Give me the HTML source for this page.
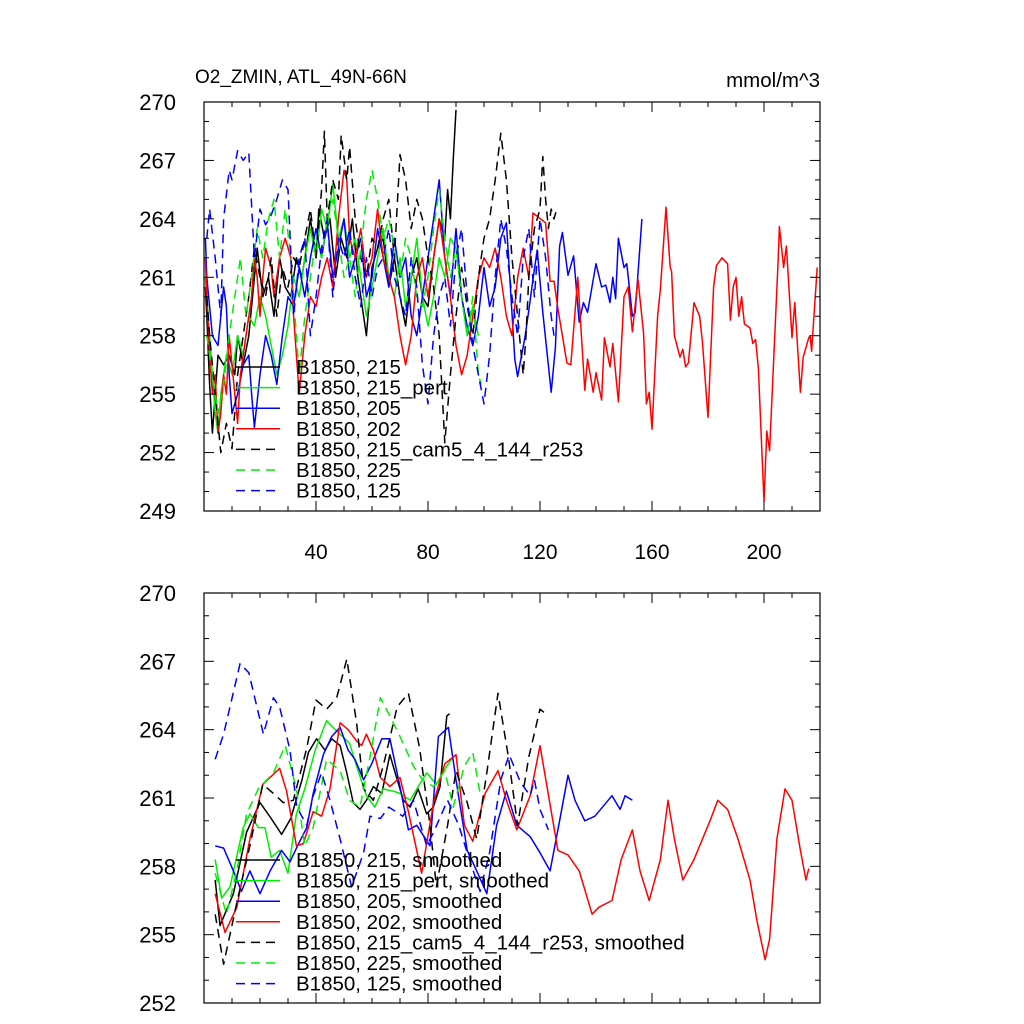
<!DOCTYPE html>
<html><head><meta charset="utf-8"><style>
html,body{margin:0;padding:0;background:#fff;}
svg{display:block;font-family:"Liberation Sans",sans-serif;}
</style></head><body>
<svg id="chart" width="1024" height="1024" viewBox="0 0 1024 1024"></svg>
<script>
// ---------- DATA ----------
const topBlackX=[0.5,1,2,3,4,5,7,9,11,12,14,16,18,19,21,23,25,27,29,31,33,35,37,38,40,41,43,45,47,49,51,53,55,57,58,60,62,64,66,68,70,72,74,76,78,80,82,84,86,87,88,89,90];
const topBlackV=[260.5,259,255.5,253,255,257,256.5,257,256,258,256.5,258,261,262.5,260,261,259,262,260.5,260,262,261,263,264,262,264.5,263,264,261,263,262,264,261,259,258,261.5,262.5,263,260.5,262,260,258.5,261,262,260,259.5,262,264,263,265.5,264,267,269.6];
const topGreenX=[0.5,2,3,4,5,6,8,10,12,14,16,18,20,22,24,26,28,30,32,34,36,38,40,42,44,46,48,50,52,54,56,58,60,62,64,66,68,70,72,74,76,78,80,82,84,86,88,90,92,94,96,98];
const topGreenV=[261,258,256,254,253,255,257,256,258,257,259,258.5,260,259,257.5,256,257,258.5,261,260,262,263.5,262,264.5,263.5,265.8,263,264,262,263,261,259,260.5,262,263.5,261,260,262,259.5,261,263,260,258.5,260,262,261,263,262.5,260,258,259.5,258];
const topBlueX=[0.5,1,3,5,6,7,8,9,10,12,14,16,17,18,20,22,24,26,28,30,32,34,36,38,40,42,44,46,48,50,52,54,56,58,60,62,64,66,68,70,72,74,76,78,80,82,84,86,88,90,92,94,96,98,100,102,104,106,108,111,112,114.6,116,117.5,119,121,124,125.5,127,128,130,132,134,135.5,137,140,142,143.5,145,146,147,148,150,151,153,154,156.4];
const topBlueV=[263,261,258,257.5,259,260.5,259.5,256,254,255,256.5,257,255,253.3,256,258,257,255.5,258,260,259.5,261.5,260,262,263.5,262,263.8,261,262.5,264,261,262,263,260,261,263.5,262,260.5,263,261,262,259,258,260,262,264,266,262,260,263.5,260,258.5,257.5,259,261.5,259.5,260.5,263,263.8,256.8,255.9,257.9,259.3,260.9,262.4,259.2,255.1,257.4,262.6,263.3,261.1,262.1,258.7,259.7,259.2,261.7,260.5,260.6,259.7,261,259.9,263,261.5,261.7,259,259.2,264];
const topRedX=[0.5,1,2,3,4,5,6,7,8,9,11,12,13,15,17,18,19,20,21,22,24,25,27,29,31,32,33,34,36,38,40,42,44,46,48,50,51,52,54,56,58,60,62,64,66,68,70,72,74,76,78,80,82,84,86,88,90,92,94,96,98,100,102,104,106,108,110,112,114,116,117.5,122,123.6,125,126.5,129.6,131,133.5,136,137,139,140,142,143,145,146,148,150,151.5,153,155,157,158,159,160,162,163,165,166.5,167,168,170,171,172,173,175,177,178,180,182,183,185,187,188,189,190,191,192,193,195,196,197,198,200,201,202,205,205.5,207,208,210,211,213,214,216,216.5,217,219];
const topRedV=[262,260,257,255,256,253,254,256,255,258,255,253.5,256,258,260,262,261,259,261,262.5,261.5,260,262,263,262,259,257,255,258,260,259.5,261,262,260.5,264,266.5,266,263,262,263.5,261,262,264.5,262,261,260,258,256.5,258,261,262,260,262,264,262,260,257.5,256,257,259,261,262,261.5,262.5,261,259,258,261,262.5,261,264.3,263.8,260.8,260.8,259.3,256.6,256.5,261,255.2,256.8,255.1,256.1,254.7,257.9,256.4,257.6,254.6,260,260.5,258.2,260.9,258.1,254.5,255.1,253.2,259,260.4,264.6,261.5,261.3,258,256.9,257.3,256.4,256.6,259.7,259,257.7,253.8,260.5,261.6,262,261.7,258.8,260.5,261,259,260,258.6,258.4,257.6,257.8,256.3,249.5,253.1,252.1,261.7,263.6,261.5,262.6,257.9,259.7,255.1,256.9,257.9,258,257.2,261.5];
const topBlackDX=[1,2,4,6,8,10,12,14,16,18,20,22,24,26,28,30,32,34,36,38,40,42,43,44,46,48,49,51,52,54,56,58,60,62,64,66,68,70,72,74,76,78,80,82,84,86,88,90,92,94,96,98,100,102,104,106,108,110,112,114,115,116,118,120,121,122,123,124,125,126];
const topBlackDV=[260,258,255,252,253.5,252.2,256,258,260,262.5,261,260,262,259,261.5,260.5,262,261.5,263,264.5,262,265.5,268.5,264,266,265,268.3,266,267.7,264,262,261,263,262.5,264,265,262,267.3,266,263.5,265,264,262,260.5,258,252.5,256,259,261.5,259.5,258,261,263,264,266,268.4,266,262,259,256,258,261,263.5,264.5,267.2,265,263.5,264.5,264,264.5];
const topGreenDX=[1,3,5,7,9,11,13,15,17,19,21,23,25,27,29,31,33,34,36,38,40,42,44,46,48,50,52,54,56,58,60,62,64,66,68,70,72,74,76,78,80,82,84,86,88,90,92,94,96,98,99];
const topGreenDV=[258,256,254,255.5,258,260,262,259,261,263.5,262,264,265,262,264.5,262,258,256,259,261,263,262,264,265,263,261,262,260,262.5,265,266.5,265,263,264,262.5,261,263,262,260,259.5,261,263.5,265.5,263,261,262.5,260,258,260,256,255.5];
const topBlueDX=[1,2,4,6,7,9,10,12,14,16,18,20,22,24,26,28,30,32,34,36,38,40,42,44,46,48,50,52,54,56,58,60,62,64,66,68,70,72,74,76,78,80,82,84,86,88,90,92,94,96,98,100,102,104,106,108,110,112,114,116,118,120,122,124,125];
const topBlueDV=[263,264.5,262,259,264,266.5,266,267.5,267,267.4,262,264.5,263.7,264.2,265,266,265.5,259,262,263,258,260,262.5,264,260,263,262,263.5,261,259.5,262,260,261.5,262,263.5,261,260,259,262,260.5,256.5,254.5,258,260,261,258.5,262,263.5,260,257.5,256,254.5,257,261,264,262.5,260,258,262,263.5,260,264,262,259,258];

const botBlackX=[4,5.7,10.5,15.2,20,24,27.7,31,35,37.3,40.2,43.2,45.6,48.6,51,53.3,55.7,58,60.5,63.5,66.4,69,71.2,73.6,76.5,79.5,81.9,84.3,86.7,87.7];
const botBlackV=[257.4,255.4,256.8,259.5,260.8,260.1,259.4,260.1,261.8,263,263.6,263.1,263.6,263.3,262.1,260.8,260.5,260.9,261.5,261.2,262.9,261.8,260.9,260.6,261.4,260.3,260.6,261.5,264.6,264.7];
const botGreenX=[4,6.3,9.3,14,16.4,19.4,21.8,24,27,30,33,36,39.7,43.8,46,48.6,52,54.5,58,61,64,67.6,70,73.6,76.5,79.5,83,86.7,89];
const botGreenV=[258.3,256.6,257.1,259.7,260.3,259.7,259.7,258.4,258.7,257.7,260.3,261.4,263.1,264.4,264.1,263.8,263.4,262.4,261.1,260.6,261.4,261.3,261.2,260.9,261.5,262.1,261.6,262.4,262.8];
const botBlueX=[4,7,10.5,13.4,16.4,20,23.6,27.7,30.7,33.8,36.7,39,42.6,45.6,48.6,51.5,53.9,57,59.9,63.5,66.4,70,73,76,80.7,83.7,87.3,90,94,97.4,101,104.5,108,111.7,116.5,120,123.6,127,130,132.5,136,139.6,143,145.7,148.6,150.4,153];
const botBlueV=[258.9,258.8,257.8,256.9,257.8,256.8,257.8,258.7,258.2,259,259.7,261.2,262.9,263.7,264.1,263.1,262.7,261.8,262.5,263.6,263.6,261.5,259.6,259.8,258.9,263.7,264.1,261.8,258.7,257.8,256.8,259.8,261.3,259.8,259.3,258.6,257.8,260,262,260.9,260,260.2,260.7,261.1,260.5,261.1,260.9];
const botRedX=[4,7.5,11.7,16.4,21,27,29.5,33,35.5,39,42,45,48.6,51.5,54.5,56.3,58,60.5,63,66.4,70,73,77.7,82,86,90,93,96,100.4,105,108,111.7,116.5,120,126.4,130,134,138.6,141,145.7,149,153,155.7,159,163,165.7,168,171,175,180.7,183.5,187,190.7,195,197.5,200.4,202,204.6,207.5,210,213,215,216];
const botRedV=[256.8,255.1,256.2,259.2,261.6,262.3,261.3,258.9,259,260.4,260.2,261.4,264.3,264,263.5,263.3,263.8,263.1,261.9,261.5,261.9,260.4,257.7,260.8,262.5,262.9,259.8,259.1,261.2,262.2,260.9,259.6,261.1,263.3,258.7,258.5,257.8,255.9,256.2,256.5,258.3,259.6,257.8,256.5,258.3,260.9,259.2,257.4,258.3,260,260.9,260.5,259.2,257.4,255.6,253.9,254.8,259.2,261.4,260.9,258.7,257.4,257.9];
const botBlackDX=[4,7,11.7,16.4,21,24.8,28.3,31.9,36.7,40,43.8,47.4,51,54.5,57,60.5,64,69,73,77,80.7,83,87,90,94,97.4,101,105,108.7,112,116,120,123];
const botBlackDV=[255.9,253.7,256.4,258.9,261.6,261.2,260.8,260.9,263.2,265.3,264.9,265.4,267.1,264.3,261.4,260.9,262.4,265,265.6,263.2,259.8,257.1,259.8,262.2,260.8,259.2,262.1,265.6,262.8,259.8,262.8,264.9,264.6];
const botGreenDX=[4,8,11.7,15.2,19.4,24.8,29,33,36,39,43.8,48.6,52,55.7,59.3,63,66.4,70,74.8,78,82,86,89,93,96,98.6];
const botGreenDV=[257.7,255.9,257.8,260.3,261.4,262.1,263.3,261.4,258.9,259.7,262.7,262.2,260.9,260.6,262.8,265.4,264.6,263.7,262.4,261.8,261.5,262.2,260.6,262.4,263,261.2];
const botBlueDX=[4,7,12.9,16,21.2,24.8,27,30.7,33.1,36.7,39,42,45,48.6,52.7,57,59.3,63,66,71,74.8,79.5,82,87,91,94,98.6,102,106,109,113,116.5,118,120,123];
const botBlueDV=[262.7,263.8,266.9,266.5,263.8,265.4,265,263.1,260.6,259.8,261.1,262.1,260.9,259.2,257.1,258.6,260.2,260.1,260.6,260.2,260.9,258.9,259.5,260.9,259.8,258.6,256.9,258.6,261.8,262.9,261.7,261.1,261.8,260.5,259.6];

const topLegendLabels=["B1850, 215","B1850, 215_pert","B1850, 205","B1850, 202","B1850, 215_cam5_4_144_r253","B1850, 225","B1850, 125"];
const botLegendLabels=["B1850, 215, smoothed","B1850, 215_pert, smoothed","B1850, 205, smoothed","B1850, 202, smoothed","B1850, 215_cam5_4_144_r253, smoothed","B1850, 225, smoothed","B1850, 125, smoothed"];
const xTickLabels=[40,80,120,160,200];
const topYTicks=[270,267,264,261,258,255,252,249];
const botYTicks=[270,267,264,261,258,255,252];

// ---------- DRAW ----------
const NS="http://www.w3.org/2000/svg";
const svg=document.getElementById('chart');
function mk(tag,attrs,parent){const e=document.createElementNS(NS,tag);for(const k in attrs)e.setAttribute(k,attrs[k]);(parent||svg).appendChild(e);return e;}
const L=204,R=820;
const xMin=0,xMax=220;
function xs(u){return L+(u-xMin)/(xMax-xMin)*(R-L);}

const styles=[["#000",null],["#00ee00",null],["#0000ff",null],["#ff0000",null],["#000","9,6"],["#00ee00","9,6"],["#0000ff","9,6"]];

function panel(name,top,bot,yMin,yMax,yTicks,series,legend,legTop,showXLabels){
  const g=mk('g',{});
  
  
  function ys(v){return bot-(v-yMin)/(yMax-yMin)*(bot-top);}
  const clipId=name+'-clip';
  const cp=mk('clipPath',{id:clipId},g);mk('rect',{x:L,y:top,width:R-L,height:bot-top},cp);
  const sg=mk('g',{'clip-path':'url(#'+clipId+')'},g);
  series.forEach((s,i)=>{
    const d=s[0].map((u,j)=>(j?'L':'M')+xs(u).toFixed(1)+','+ys(s[1][j]).toFixed(1)).join('');
    const p=mk('path',{d:d,fill:'none',stroke:styles[i][0],'stroke-width':1.5,'stroke-linejoin':'round'},sg);
    if(styles[i][1])p.setAttribute('stroke-dasharray',styles[i][1]);
    
    
  });
  const fr=mk('rect',{x:L,y:top,width:R-L,height:bot-top,fill:'none',stroke:'#000','stroke-width':1.2},g);
  
  
  for(let v=yMin;v<=yMax;v++){
    const major=((yMax-v)%3===0);const len=major?10:5;const y=ys(v);
    mk('line',{x1:L,x2:L+len,y1:y,y2:y,stroke:'#000','stroke-width':1},g);
    mk('line',{x1:R,x2:R-len,y1:y,y2:y,stroke:'#000','stroke-width':1},g);
  }
  yTicks.forEach(v=>{
    const t=mk('text',{x:176,y:ys(v)+8,'text-anchor':'end','font-size':22},g);t.textContent=v;
    
    
  });
  for(let u=10;u<xMax;u+=10){
    const major=(u%40===0);const len=major?10:5;const x=xs(u);
    mk('line',{x1:x,x2:x,y1:bot,y2:bot-len,stroke:'#000','stroke-width':1},g);
    mk('line',{x1:x,x2:x,y1:top,y2:top+len,stroke:'#000','stroke-width':1},g);
  }
  if(showXLabels){xTickLabels.forEach(u=>{
    const t=mk('text',{x:xs(u),y:bot+48,'text-anchor':'middle','font-size':21},g);t.textContent=u;
    
    
  });}
  legend.forEach((lab,i)=>{
    const y=legTop+i*20.6;
    const ln=mk('line',{x1:236,x2:280,y1:y,y2:y,stroke:styles[i][0],'stroke-width':1.5},g);
    if(styles[i][1])ln.setAttribute('stroke-dasharray',styles[i][1]);
    
    
    const t=mk('text',{x:296,y:y+7,'font-size':20.5},g);t.textContent=lab;
    
    
  });
}

const t1=mk('text',{x:195,y:83,'font-size':19});t1.textContent="O2_ZMIN, ATL_49N-66N";


const t2=mk('text',{x:820,y:87,'font-size':20.5,'text-anchor':'end'});t2.textContent="mmol/m^3";



panel('top-panel',102,511,249,270,topYTicks,
 [[topBlackX,topBlackV],[topGreenX,topGreenV],[topBlueX,topBlueV],[topRedX,topRedV],[topBlackDX,topBlackDV],[topGreenDX,topGreenDV],[topBlueDX,topBlueDV]],
 topLegendLabels,367,true);
panel('bottom-panel',593,1003,252,270,botYTicks,
 [[botBlackX,botBlackV],[botGreenX,botGreenV],[botBlueX,botBlueV],[botRedX,botRedV],[botBlackDX,botBlackDV],[botGreenDX,botGreenDV],[botBlueDX,botBlueDV]],
 botLegendLabels,860,false);
</script>
</body></html>
